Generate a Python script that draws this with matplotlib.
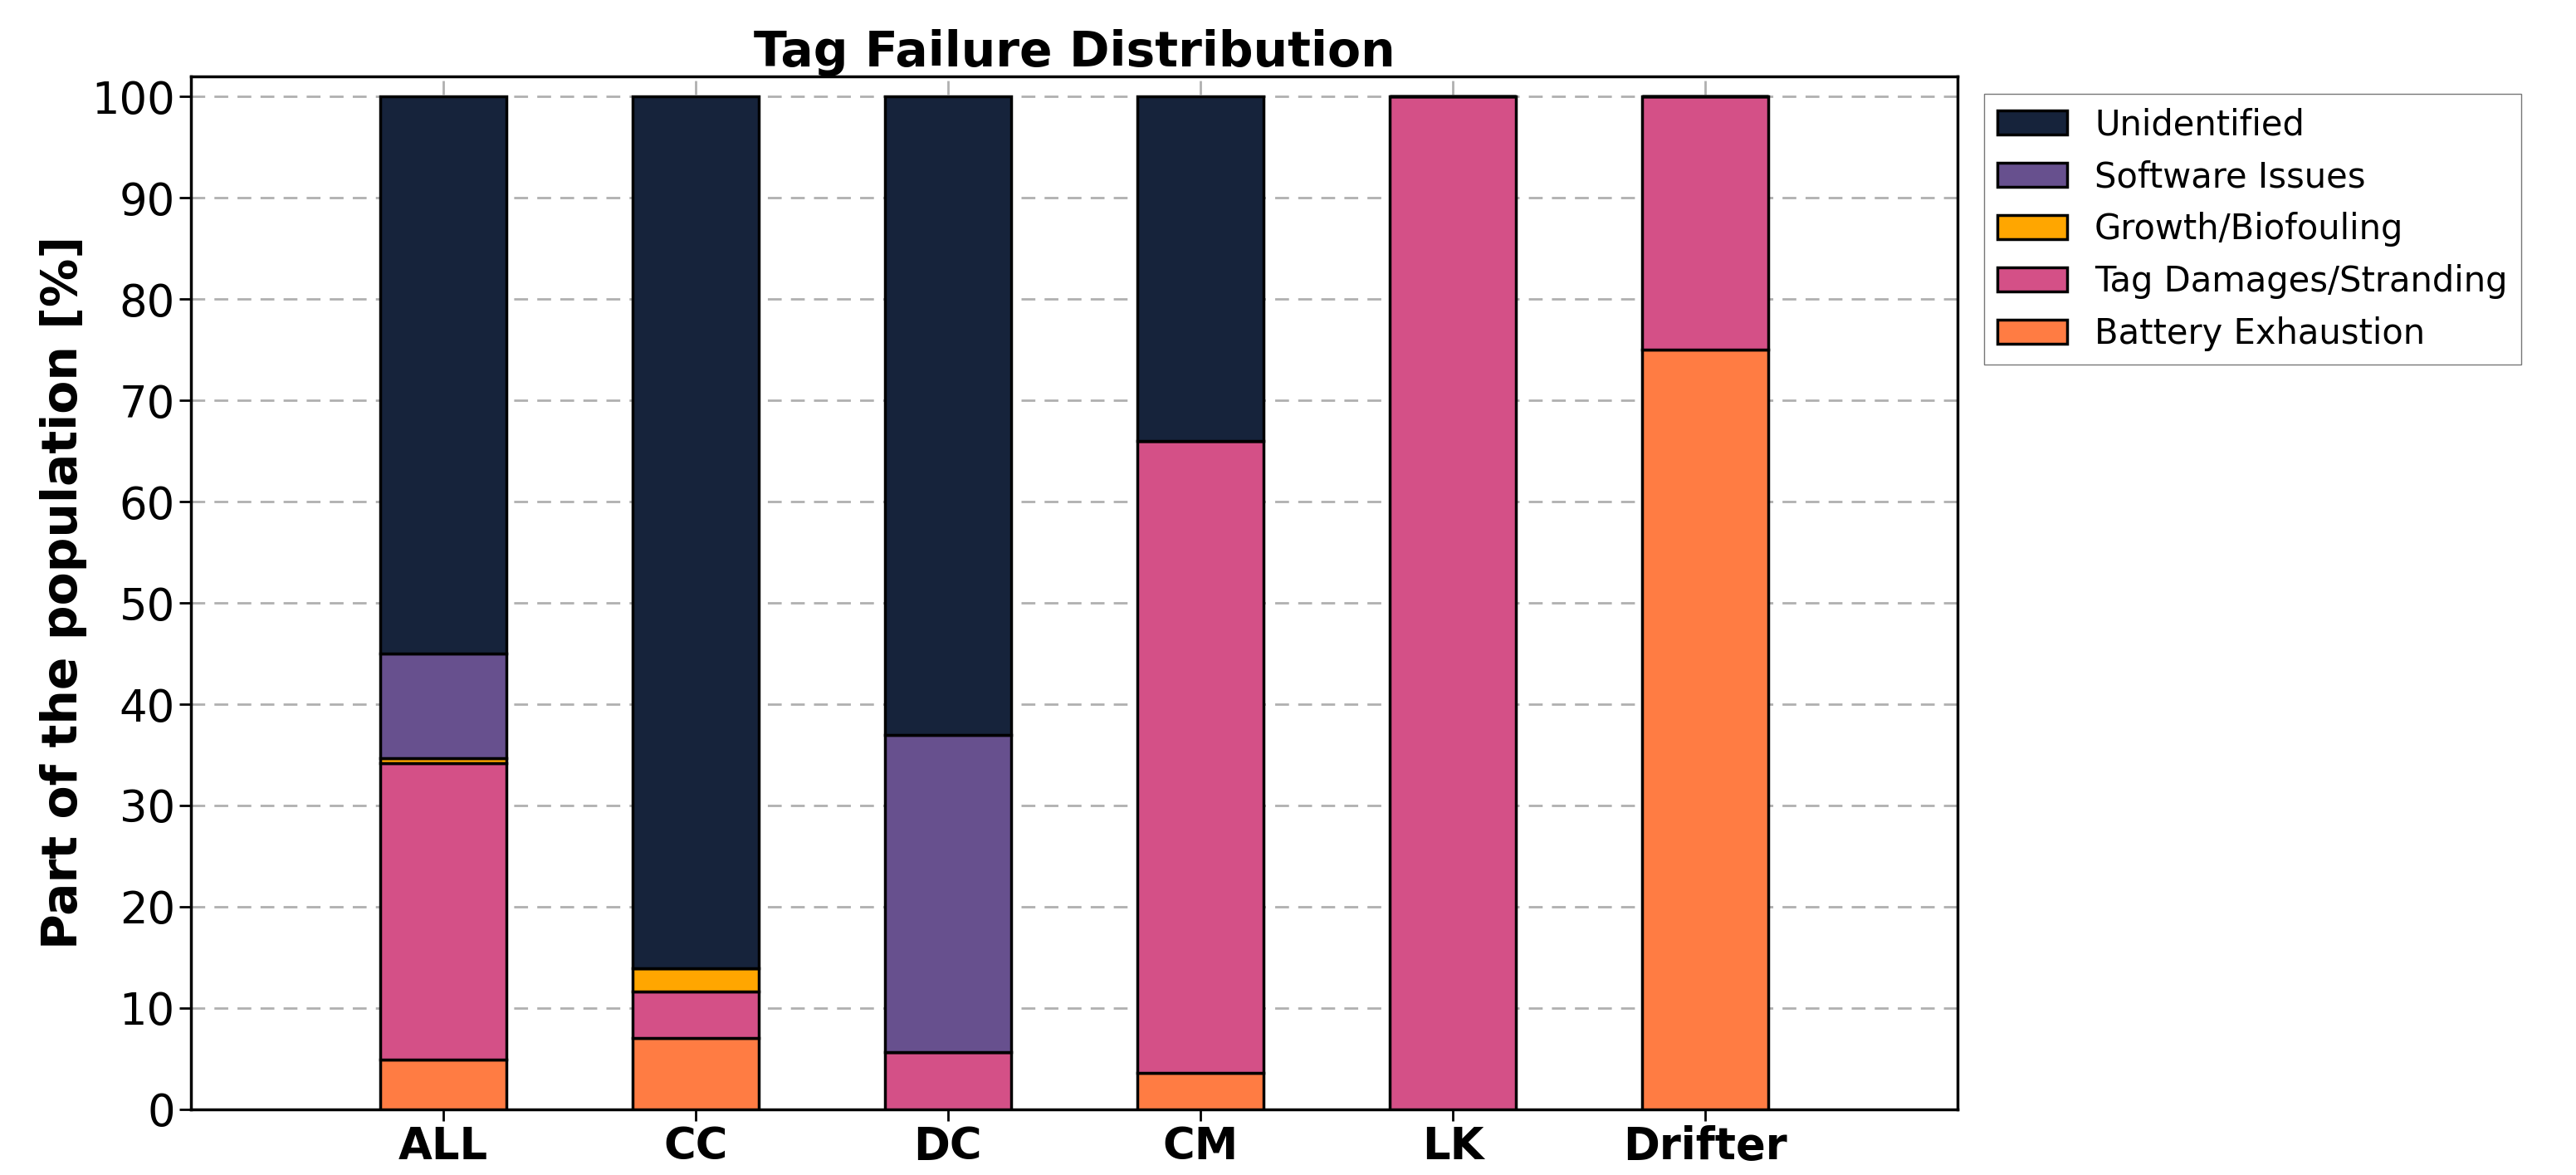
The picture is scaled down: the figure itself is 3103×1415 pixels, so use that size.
import matplotlib
matplotlib.use("Agg")
import matplotlib.pyplot as plt
import numpy as np

groups = ["ALL", "CC", "DC", "CM", "LK", "Drifter"]
battery = [4.9, 7.0, 0.0, 3.6, 0.0, 75.0]
damages = [29.3, 4.6, 5.6, 62.4, 100.0, 25.0]
growth = [0.5, 2.3, 0.0, 0.0, 0.0, 0.0]
software = [10.3, 0.0, 31.4, 0.0, 0.0, 0.0]
unidentified = [55.0, 86.1, 63.0, 34.0, 0.0, 0.0]

series = [
    ("Battery Exhaustion", battery, "#ff7c43"),
    ("Tag Damages/Stranding", damages, "#d45087"),
    ("Growth/Biofouling", growth, "#ffa600"),
    ("Software Issues", software, "#67508e"),
    ("Unidentified", unidentified, "#16233b"),
]

fig = plt.figure(figsize=(31.03, 14.15), dpi=100)
ax = fig.add_axes([0.074, 0.056, 0.686, 0.879])
x = np.arange(len(groups))
bottom = np.zeros(len(groups))
handles = []
for label, vals, color in series:
    vals = np.array(vals)
    h = ax.bar(x, vals, 0.5, bottom=bottom, color=color, edgecolor="black",
               linewidth=2.5, label=label, zorder=3)
    handles.append(h)
    bottom += vals

ax.set_xlim(-1, 6)
ax.set_ylim(0, 102)
ax.set_yticks(range(0, 101, 10))
ax.set_xticks(x)
ax.set_xticklabels(groups, fontsize=38, fontweight="bold")
ax.tick_params(axis="y", labelsize=38, width=2, length=10)
ax.tick_params(axis="x", width=2, length=10)
ax.grid(True, linestyle="--", color="#b0b0b0", linewidth=2, dashes=(6, 4), zorder=0)
for s in ax.spines.values():
    s.set_linewidth(2.5)
ax.set_ylabel("Part of the population [%]", fontsize=42, fontweight="bold")
ax.set_title("Tag Failure Distribution", fontsize=42, fontweight="bold")
leg = ax.legend(handles[::-1], [s[0] for s in series][::-1], loc="upper left",
                bbox_to_anchor=(1.005, 1.0), fontsize=30, handlelength=2.0,
                fancybox=False, edgecolor="#555555")

fig.savefig("out.png", dpi=100)
